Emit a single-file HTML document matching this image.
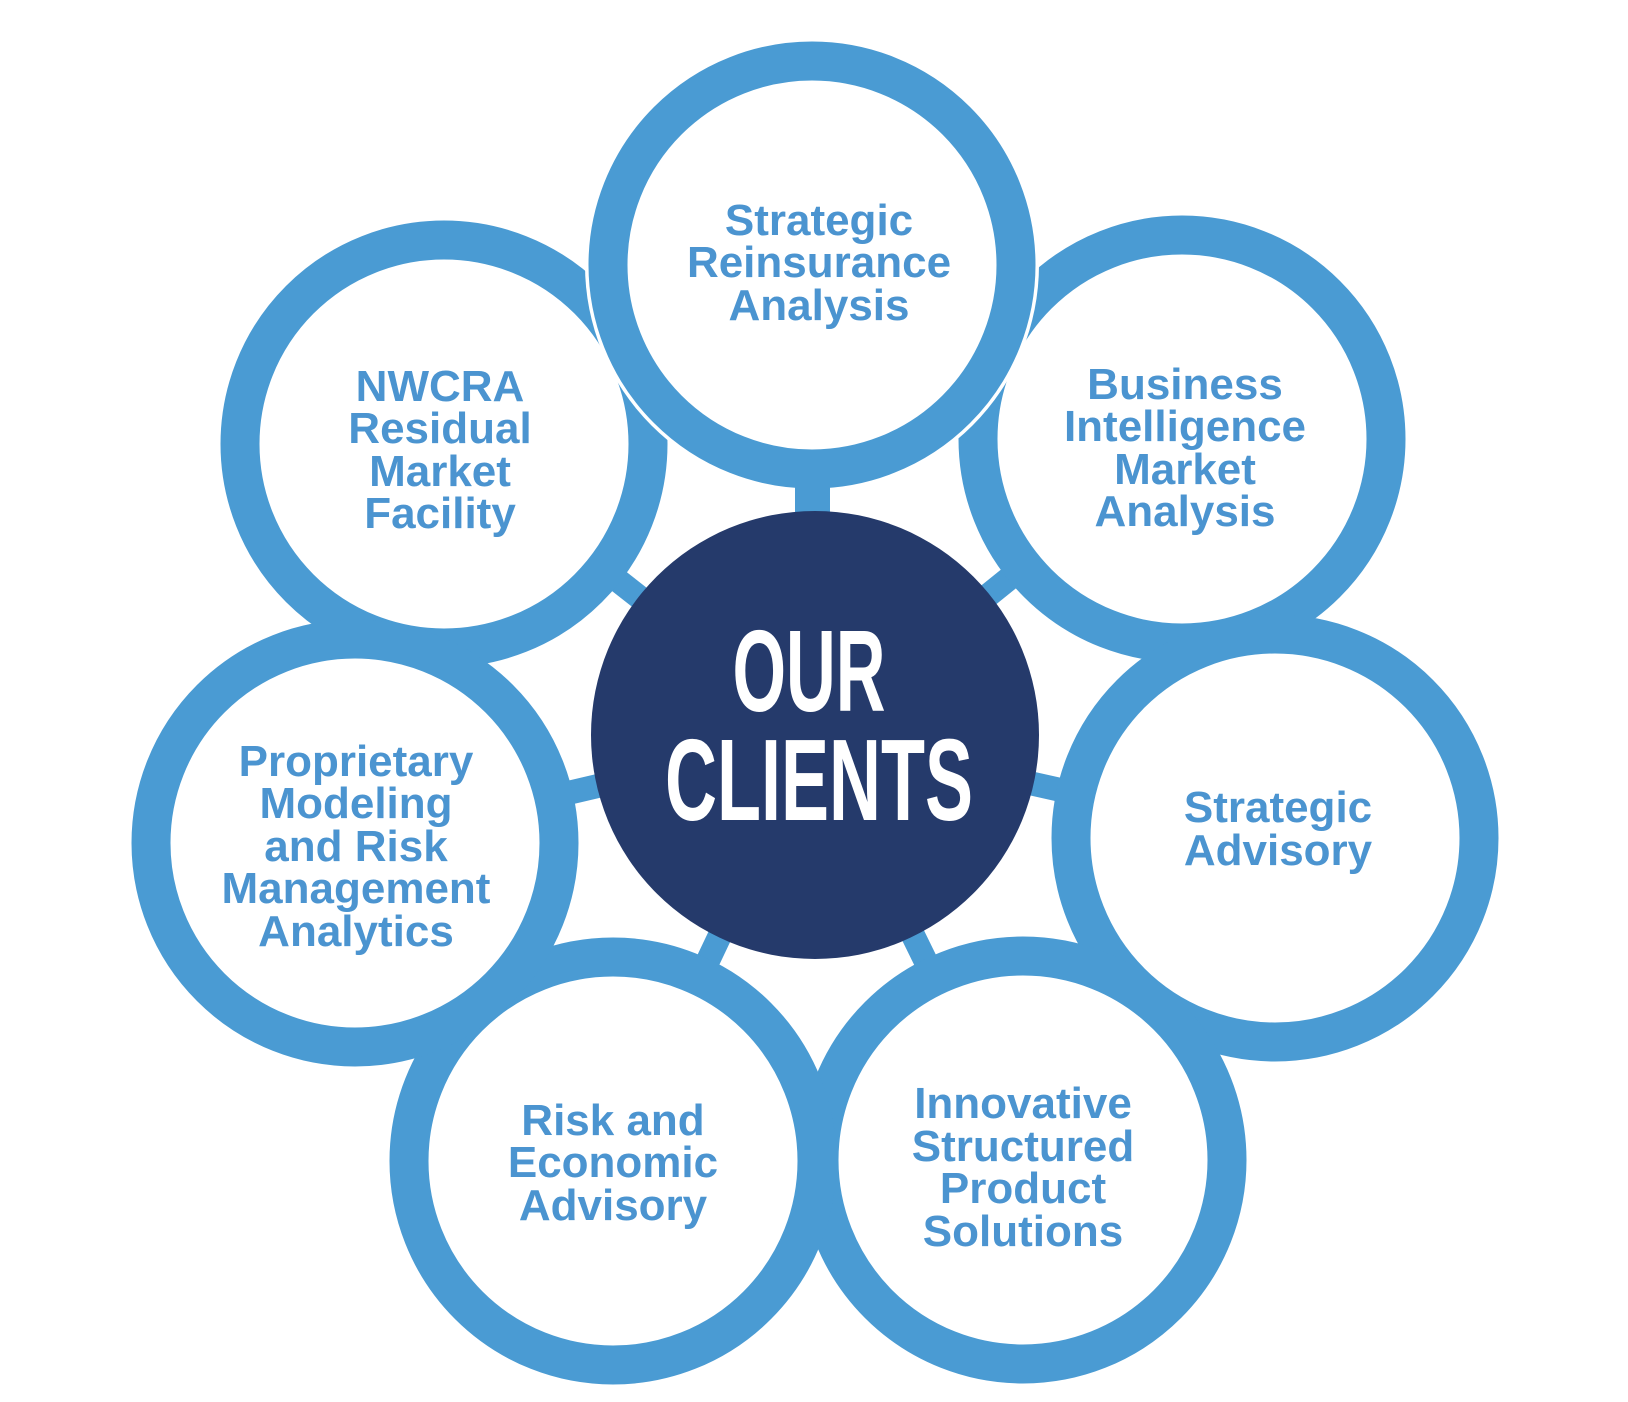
<!DOCTYPE html>
<html><head><meta charset="utf-8"><style>
html,body{margin:0;padding:0;background:#fff;}
svg{display:block}
.t{font-family:"Liberation Sans",sans-serif;font-weight:bold;font-size:44px;fill:#4b94d0;text-anchor:middle}
.c{font-family:"Liberation Sans",sans-serif;font-weight:bold;font-size:116px;fill:#fff;text-anchor:middle}
</style></head><body>
<svg width="1628" height="1402" viewBox="0 0 1628 1402" xmlns="http://www.w3.org/2000/svg">
<g stroke="#4a9bd3" stroke-width="24">
<line x1="815" y1="735" x2="812" y2="265"/>
<line x1="815" y1="735" x2="444" y2="444"/>
<line x1="815" y1="735" x2="1182" y2="439"/>
<line x1="815" y1="735" x2="355" y2="843"/>
<line x1="815" y1="735" x2="1275" y2="838"/>
<line x1="815" y1="735" x2="613" y2="1161"/>
<line x1="815" y1="735" x2="1023" y2="1160"/>
</g>
<g fill="#fff" stroke="#4a9bd3" stroke-width="39">
<circle cx="444" cy="444" r="204"/>
<circle cx="1182" cy="439" r="204"/>
<circle cx="1275" cy="838" r="204"/>
<circle cx="1023" cy="1160" r="204"/>
<circle cx="613" cy="1161" r="204"/>
<circle cx="355" cy="843" r="204"/>
</g>
<circle cx="812" cy="265" r="227" fill="#fff"/>
<circle cx="812" cy="265" r="204" fill="#fff" stroke="#4a9bd3" stroke-width="39"/>
<rect x="795" y="470" width="35" height="50" fill="#4a9bd3"/>
<circle cx="815" cy="735" r="224" fill="#253a6b"/>
<text class="c" x="809" y="711" textLength="153" lengthAdjust="spacingAndGlyphs">OUR</text>
<text class="c" x="819" y="820" textLength="308" lengthAdjust="spacingAndGlyphs">CLIENTS</text>
<g class="t">
<text x="819" y="235">Strategic</text><text x="819" y="277">Reinsurance</text><text x="819" y="320">Analysis</text>
<text x="440" y="401">NWCRA</text><text x="440" y="443">Residual</text><text x="440" y="486">Market</text><text x="440" y="528">Facility</text>
<text x="1185" y="399">Business</text><text x="1185" y="441">Intelligence</text><text x="1185" y="484">Market</text><text x="1185" y="526">Analysis</text>
<text x="356" y="776">Proprietary</text><text x="356" y="818">Modeling</text><text x="356" y="861">and Risk</text><text x="356" y="903">Management</text><text x="356" y="946">Analytics</text>
<text x="1278" y="822">Strategic</text><text x="1278" y="865">Advisory</text>
<text x="613" y="1135">Risk and</text><text x="613" y="1177">Economic</text><text x="613" y="1220">Advisory</text>
<text x="1023" y="1118">Innovative</text><text x="1023" y="1161">Structured</text><text x="1023" y="1203">Product</text><text x="1023" y="1246">Solutions</text>
</g>
</svg>
</body></html>
